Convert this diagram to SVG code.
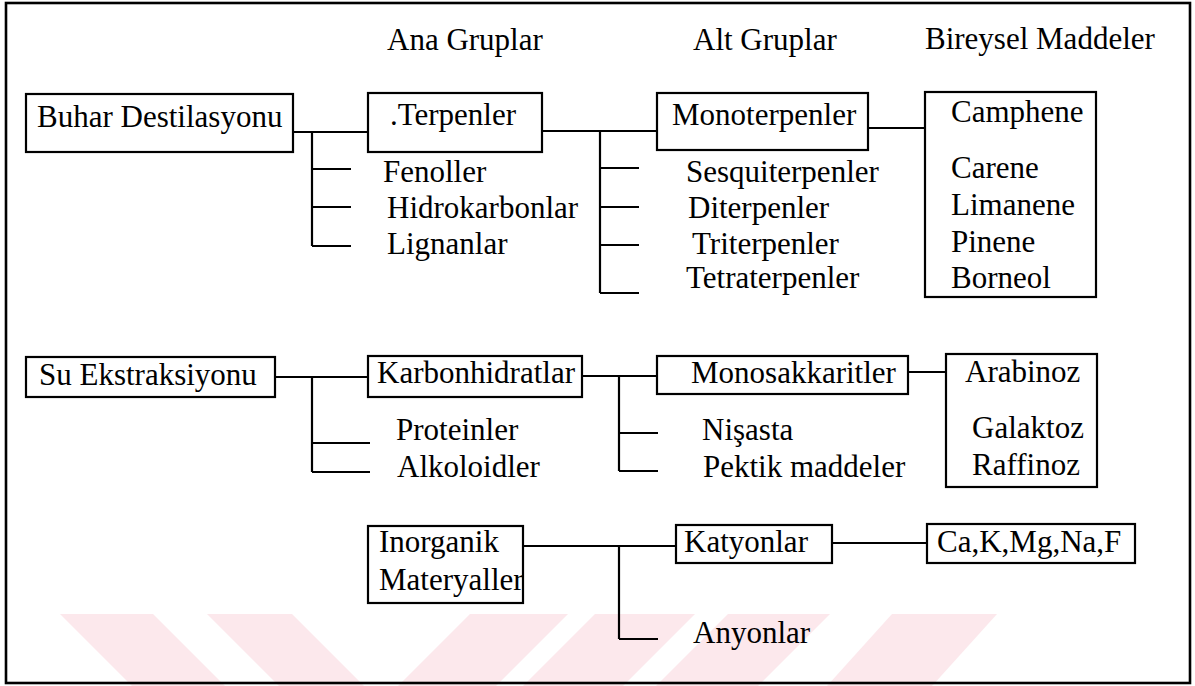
<svg xmlns="http://www.w3.org/2000/svg" width="1195" height="686" viewBox="0 0 1195 686">
<style>
.t{font-family:"Liberation Serif","Times New Roman",serif;font-size:31px;fill:#000}
.box{fill:none;stroke:#000;stroke-width:2.2}
.ln{fill:none;stroke:#000;stroke-width:2.2}
.wm{fill:#fce8ec}
</style>
<rect x="0" y="0" width="1195" height="686" fill="#fff"/>
<g id="watermark">
<polygon class="wm" points="60,614 153,614 225,686 132,686"/>
<polygon class="wm" points="207,614 292,614 364,686 279,686"/>
<polygon class="wm" points="470,614 568,614 496,686 398,686"/>
<polygon class="wm" points="595,614 695,614 623,686 523,686"/>
<polygon class="wm" points="728,614 830,614 758,686 656,686"/>
<polygon class="wm" points="892,614 997,614 932,686 827,686"/>
</g>
<rect id="frame" x="6" y="3" width="1184" height="680" fill="none" stroke="#000" stroke-width="2.6"/>
<g id="headers">
<text class="t" x="387" y="50">Ana Gruplar</text>
<text class="t" x="693" y="50">Alt Gruplar</text>
<text class="t" x="925" y="49">Bireysel Maddeler</text>
</g>
<g id="connectors">
<path class="ln" d="M293,132H368M312,132V246M312,169H351M312,207H351M312,246H351"/>
<path class="ln" d="M542,131H657M600,131V293M600,168H639M600,207H639M600,245H639M600,293H639"/>
<path class="ln" d="M868,128H925"/>
<path class="ln" d="M275,377H368M312,377V472M312,443H370M312,472H370"/>
<path class="ln" d="M582,376H657M619,376V471M619,433H658M619,471H658"/>
<path class="ln" d="M908,372H946"/>
<path class="ln" d="M523,546H676M619,546V639M619,639H658"/>
<path class="ln" d="M832,543H927"/>
</g>
<g id="buhar"><rect class="box" x="26" y="94" width="267" height="58"/><text class="t" x="37" y="127">Buhar Destilasyonu</text></g>
<g id="terpenler"><rect class="box" x="368" y="93" width="174" height="59"/><text class="t" x="390" y="125">.Terpenler</text></g>
<g id="fenoller-list">
<text class="t" x="383" y="182">Fenoller</text>
<text class="t" x="387" y="218">Hidrokarbonlar</text>
<text class="t" x="387" y="254">Lignanlar</text>
</g>
<g id="monoterpenler"><rect class="box" x="657" y="93" width="211" height="57"/><text class="t" x="672" y="125">Monoterpenler</text></g>
<g id="terpen-list">
<text class="t" x="686" y="182">Sesquiterpenler</text>
<text class="t" x="688" y="218">Diterpenler</text>
<text class="t" x="692" y="254">Triterpenler</text>
<text class="t" x="686" y="288">Tetraterpenler</text>
</g>
<g id="camphene"><rect class="box" x="925" y="92" width="171" height="205"/>
<text class="t" x="951" y="122">Camphene</text>
<text class="t" x="951" y="178">Carene</text>
<text class="t" x="951" y="215">Limanene</text>
<text class="t" x="951" y="252">Pinene</text>
<text class="t" x="951" y="288">Borneol</text>
</g>
<g id="su"><rect class="box" x="26" y="357" width="249" height="40"/><text class="t" x="39" y="385">Su Ekstraksiyonu</text></g>
<g id="karbonhidratlar"><rect class="box" x="368" y="356" width="214" height="41"/><text class="t" x="377" y="383">Karbonhidratlar</text></g>
<g id="protein-list">
<text class="t" x="396" y="440">Proteinler</text>
<text class="t" x="397" y="477">Alkoloidler</text>
</g>
<g id="monosakkaritler"><rect class="box" x="657" y="356" width="251" height="38"/><text class="t" x="691" y="383">Monosakkaritler</text></g>
<g id="nisasta-list">
<text class="t" x="702" y="440">Nişasta</text>
<text class="t" x="703" y="477">Pektik maddeler</text>
</g>
<g id="arabinoz"><rect class="box" x="946" y="354" width="151" height="133"/>
<text class="t" x="965" y="382">Arabinoz</text>
<text class="t" x="972" y="438">Galaktoz</text>
<text class="t" x="972" y="475">Raffinoz</text>
</g>
<g id="inorganik"><rect class="box" x="368" y="526" width="155" height="77"/>
<text class="t" x="379" y="552">Inorganik</text>
<text class="t" x="379" y="590">Materyaller</text>
</g>
<g id="katyonlar"><rect class="box" x="676" y="525" width="156" height="38"/><text class="t" x="684" y="552">Katyonlar</text></g>
<g id="cations"><rect class="box" x="927" y="524" width="208" height="39"/><text class="t" x="937" y="552">Ca,K,Mg,Na,F</text></g>
<g id="anyonlar"><text class="t" x="693" y="643">Anyonlar</text></g>
</svg>
